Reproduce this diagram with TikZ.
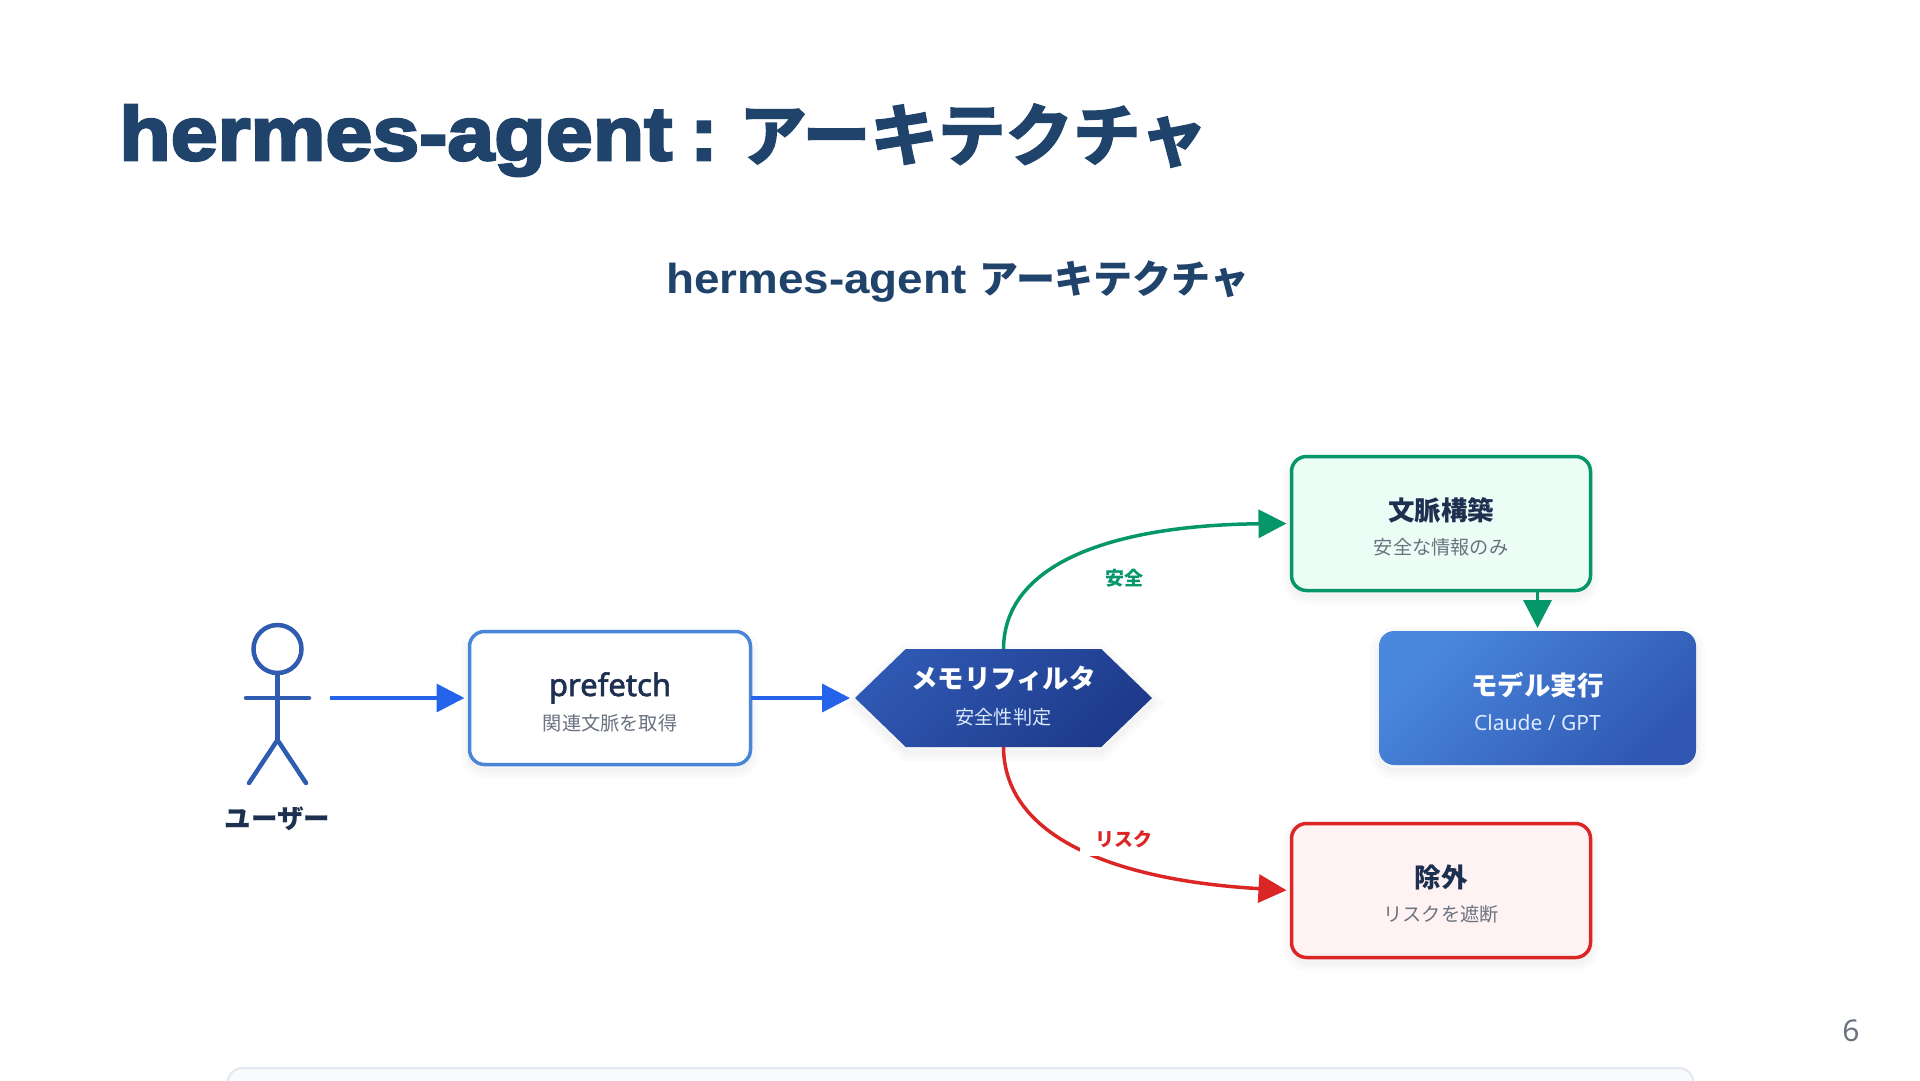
\documentclass[tikz,border=0pt]{standalone}
\usepackage{fontspec}
\usetikzlibrary{arrows.meta,shapes.symbols}
\setmainfont{Noto Sans CJK JP}
\newfontfamily\headlatin[FakeBold=3.5,FakeStretch=1.11]{Liberation Sans Bold}
\newfontfamily\headjp[FakeBold=3]{Noto Sans CJK JP Bold}
\newfontfamily\latinsans{Noto Sans}
\newfontfamily\latinsemi[FakeBold=2]{Noto Sans}
\newfontfamily\latinbold[FakeStretch=1.09]{Liberation Sans Bold}
\newcommand{\px}[1]{\fontsize{#1}{#1}\selectfont}
\definecolor{titlecol}{RGB}{31,67,107}
\definecolor{inkcol}{RGB}{30,48,80}
\definecolor{subcol}{RGB}{107,114,128}
\definecolor{actorcol}{RGB}{47,92,176}
\definecolor{flowcol}{RGB}{37,99,235}
\definecolor{pfline}{RGB}{74,134,216}
\definecolor{okcol}{RGB}{5,150,105}
\definecolor{okfill}{RGB}{236,253,245}
\definecolor{riskcol}{RGB}{220,38,38}
\definecolor{riskfill}{RGB}{254,242,242}
\definecolor{bluehi}{RGB}{74,136,222}
\definecolor{bluelo}{RGB}{48,88,178}
\definecolor{hexhi}{RGB}{47,88,178}
\definecolor{hexlo}{RGB}{30,58,138}
\definecolor{palecol}{RGB}{219,234,254}
\definecolor{panelfill}{RGB}{248,250,252}
\definecolor{panelline}{RGB}{226,232,240}

\begin{document}
\begin{tikzpicture}[
  x=1pt, y=-1pt,
  softshadow/.style={
    preaction={draw=black, draw opacity=.014, line width=18pt, transform canvas={yshift=-5pt}},
    preaction={draw=black, draw opacity=.014, line width=10pt, transform canvas={yshift=-5pt}},
    preaction={draw=black, draw opacity=.014, line width=4pt,  transform canvas={yshift=-5pt}}
  },
  box/.style={                              % rounded step box
    rectangle, rounded corners=15pt, line width=3.5pt, outer sep=0pt, inner sep=0pt,
    minimum width=299pt, minimum height=134pt, softshadow
  },
  hexbox/.style={                           % filter node
    signal, signal to=east and west, signal from=nowhere, signal pointer angle=88,
    minimum width=297pt, minimum height=98pt, inner sep=0pt, outer sep=0pt,
    top color=hexhi, bottom color=hexlo, shading angle=45, softshadow
  },
  boxname/.style={anchor=base, text=inkcol, font=\bfseries\px{26.5}, inner sep=0pt},
  boxsub/.style={anchor=base, text=subcol, font=\px{19.2}, inner sep=0pt},
  edgelabel/.style={
    fill=white, minimum width=88pt, minimum height=34pt, inner sep=0pt,
    font=\bfseries\px{19}
  },
  flow/.style={line width=3.5pt, shorten >=5pt, -{Triangle[length=28pt,width=28pt]}},
  limb/.style={draw=actorcol, line width=4.5pt, line cap=round},
]
\useasboundingbox (0,0) rectangle (1920,1080);
\clip (0,0) rectangle (1920,1080);

% ---- Headings ----
\node (title) at (119,160) [anchor=base west, inner sep=0pt, text=titlecol]
  {\px{76}\headlatin hermes-agent \hspace*{-6pt}: \hspace*{-10pt}\px{67.6}\headjp アーキテクチャ};
\node (subtitle) at (958,293) [anchor=base, inner sep=0pt, text=titlecol]
  {\px{42}\latinbold hermes-agent \px{39}\rmfamily\bfseries アーキテクチャ};

% ---- Actor ----
\node (head) at (277.5,649) [circle, draw=actorcol, line width=4.5pt, minimum size=48pt, inner sep=0pt, outer sep=0pt] {};
\coordinate (hip)    at (277.5,740);
\coordinate (armL)   at (246,698);
\coordinate (armR)   at (309,698);
\coordinate (footL)  at (249,783);
\coordinate (footR)  at (306,783);
\coordinate (userout) at (330,698);
\foreach \a/\b in {head.south/hip, armL/armR, hip/footL, hip/footR}
  \draw[limb] (\a) -- (\b);
\node (user) at (277.5,828) [boxname] {ユーザー};

% ---- Boxes ----
\node (pf) at (610,698) [box, draw=pfline, fill=white, minimum width=281pt, minimum height=133pt] {};
\node (filter) at (1003.5,698) [hexbox] {};
\node (ctx) at (1441,523.5) [box, draw=okcol, fill=okfill] {};
\node (model) at (1537.5,698) [box, top color=bluehi, bottom color=bluelo, shading angle=45, minimum width=317pt, minimum height=134pt] {};
\node (drop) at (1441,890.5) [box, draw=riskcol, fill=riskfill] {};

% ---- Box texts ----
\node (pfname)  at (610,696)  [boxname, font=\px{31}\latinsemi] {prefetch};
\node (pfsub)   at (610,730)  [boxsub] {関連文脈を取得};
\node (filname) at (1003.5,688) [boxname, text=white] {メモリフィルタ};
\node (filsub)  at (1003.5,724) [boxsub, text=palecol] {安全性判定};
\node (ctxname) at (1441,520) [boxname] {文脈構築};
\node (ctxsub)  at (1441,554) [boxsub] {安全な情報のみ};
\node (modname) at (1537.5,695) [boxname, text=white] {モデル実行};
\node (modsub)  at (1537.5,730) [boxsub, text=palecol, font=\px{21}\latinsans] {Claude / GPT};
\node (dropname) at (1441,887) [boxname] {除外};
\node (dropsub)  at (1441,921) [boxsub] {リスクを遮断};

% ---- Edges ----
\draw[flow, draw=flowcol] (userout) -- (pf.west);
\draw[flow, draw=flowcol] (pf.east) -- (filter.west);
\draw[flow, draw=okcol]
  (filter.north) .. controls (1004,560) and (1120,525) .. (ctx.west);
\draw[flow, draw=okcol, shorten >=3pt] (ctx.south -| model.north) -- (model.north);
\draw[flow, draw=riskcol]
  (filter.south) .. controls (1004,835) and (1110,880) .. (drop.west);

\node (safe) at (1124,578) [edgelabel, text=okcol] {安全};
\node (risk) at (1124,839) [edgelabel, text=riskcol] {リスク};

% ---- Page furniture ----
\node (panel) at (960.5,1100) [rectangle, rounded corners=15pt, draw=panelline, fill=panelfill, line width=2pt,
  minimum width=1466pt, minimum height=64pt] {};
\node (pageno) at (1851,1041) [anchor=base, inner sep=0pt, text=subcol, font=\px{30}\latinsans] {6};
\end{tikzpicture}
\end{document}
